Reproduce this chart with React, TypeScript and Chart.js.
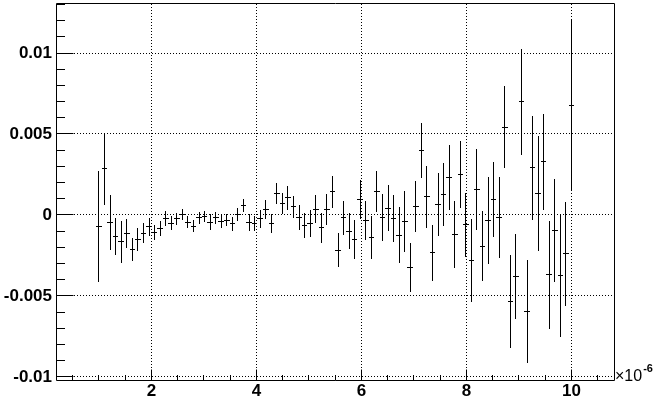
import { useEffect, useRef } from "react";
import { Chart, registerables } from "chart.js";

Chart.register(...registerables);

// ---- data (x in units of 1e-6) ----
const xValues = [
  1.0, 1.106, 1.212, 1.318, 1.424, 1.529, 1.635, 1.741, 1.847, 1.953,
  2.059, 2.165, 2.271, 2.376, 2.482, 2.588, 2.694, 2.8, 2.906, 3.012,
  3.118, 3.224, 3.329, 3.435, 3.541, 3.647, 3.753, 3.859, 3.965, 4.071,
  4.176, 4.282, 4.388, 4.494, 4.6, 4.706, 4.812, 4.918, 5.024, 5.129,
  5.235, 5.341, 5.447, 5.553, 5.659, 5.765, 5.871, 5.976, 6.082, 6.188,
  6.294, 6.4, 6.506, 6.612, 6.718, 6.824, 6.929, 7.035, 7.141, 7.247,
  7.353, 7.459, 7.565, 7.671, 7.776, 7.882, 7.988, 8.094, 8.2, 8.306,
  8.412, 8.518, 8.624, 8.729, 8.835, 8.941, 9.047, 9.153, 9.259, 9.365,
  9.471, 9.576, 9.682, 9.788, 9.894, 10.0,
];

const yValues = [
  -0.00073, 0.00285, -0.00048, -0.00135, -0.00165, -0.00116, -0.00213, -0.00151, -0.00112, -0.00073,
  -0.0011, -0.00083, -0.00023, -0.0005, -0.00023, 0.00003, -0.00044, -0.00069, -0.00017, -0.00007,
  -0.00044, -0.00017, -0.00038, -0.00032, -0.00054, 0.00003, 0.00059, -0.00048, -0.00052, -0.00025,
  0.00034, -0.00052, 0.00133, 0.00071, 0.00106, 0.0005, -0.00017, -0.00065, -0.00052, 0.00034,
  -0.00079, 0.00034, 0.00143, -0.00217, -0.00017, -0.001, -0.00151, 0.00096, -0.00034, -0.00141,
  0.00147, -0.00017, 0.0004, -0.00024, -0.00126, -0.00038, -0.00326, 0.0005, 0.00398, 0.00112,
  -0.00233, 0.00063, 0.00126, 0.00229, -0.00122, 0.00248, -0.00061, -0.00283, 0.00157, -0.00192,
  -0.00034, 0.00096, -0.00015, 0.00542, -0.00535, -0.00381, 0.00698, -0.00597, 0.00291, 0.00133,
  0.00328, -0.00371, -0.00096, -0.00377, -0.0024, 0.00676,
];

const yErrors = [
  0.00342, 0.00221, 0.00169, 0.00114, 0.00129, 0.00089, 0.00069, 0.00069, 0.0006, 0.00055,
  0.00045, 0.00046, 0.00047, 0.00041, 0.00038, 0.00036, 0.00036, 0.00036, 0.00038, 0.00034,
  0.00048, 0.00038, 0.00043, 0.00036, 0.00043, 0.00041, 0.00041, 0.00051, 0.00046, 0.00057,
  0.0006, 0.00059, 0.00065, 0.00065, 0.00074, 0.00069, 0.00079, 0.00079, 0.00084, 0.00086,
  0.00093, 0.00098, 0.00098, 0.00103, 0.00105, 0.00113, 0.00119, 0.00121, 0.00121, 0.00132,
  0.00126, 0.00144, 0.00142, 0.00144, 0.00172, 0.00188, 0.00152, 0.00157, 0.00169, 0.00192,
  0.00172, 0.00193, 0.00193, 0.002, 0.00206, 0.00208, 0.00197, 0.00255, 0.00249, 0.00219,
  0.00267, 0.0023, 0.00252, 0.00255, 0.00285, 0.00264, 0.00326, 0.00317, 0.00323, 0.00355,
  0.00298, 0.00331, 0.00317, 0.00377, 0.00322, 0.00531,
];

const xHalfWidth = 0.053;

const xTicks = [2, 4, 6, 8, 10];
const xTickLabels = ["2", "4", "6", "8", "10"];
const yTicks = [-0.01, -0.005, 0, 0.005, 0.01];
const yTickLabels = ["-0.01", "-0.005", "0", "0.005", "0.01"];
const xMinorStep = 0.5;
const yMinorStep = 0.001;
const xRange = [0.181, 10.81];
const yRange = [-0.010195, 0.013089];
const exponentBase = "\u00d710";
const exponentPower = "-6";

const FONT = "'Liberation Sans', Arial, Helvetica, sans-serif";

const rootPlugin = {
  id: "rootStyle",
  beforeDatasetsDraw(chart: any) {
    const { ctx, chartArea: a, scales } = chart;
    const xs = scales.x;
    const ys = scales.y;
    ctx.save();
    ctx.strokeStyle = "#000";
    ctx.lineWidth = 1;
    ctx.setLineDash([1, 2]);
    for (const v of xTicks) {
      const p = Math.floor(xs.getPixelForValue(v)) + 0.5;
      ctx.beginPath();
      ctx.moveTo(p, a.bottom);
      ctx.lineTo(p, a.top);
      ctx.stroke();
    }
    for (const v of yTicks) {
      const p = Math.floor(ys.getPixelForValue(v)) + 0.5;
      ctx.beginPath();
      ctx.moveTo(a.left, p);
      ctx.lineTo(a.right, p);
      ctx.stroke();
    }
    ctx.restore();
  },
  afterDatasetsDraw(chart: any) {
    const { ctx, chartArea: a, scales } = chart;
    const xs = scales.x;
    const ys = scales.y;
    ctx.save();
    ctx.strokeStyle = "#000";
    ctx.lineWidth = 1;
    ctx.setLineDash([]);
    // error bars
    ctx.save();
    ctx.beginPath();
    ctx.rect(a.left, a.top, a.right - a.left, a.bottom - a.top);
    ctx.clip();
    ctx.beginPath();
    for (let i = 0; i < xValues.length; i++) {
      const x = xValues[i];
      const y = yValues[i];
      const e = yErrors[i];
      const px = Math.floor(xs.getPixelForValue(x)) + 0.5;
      const py = Math.floor(ys.getPixelForValue(y)) + 0.5;
      const t = Math.round(ys.getPixelForValue(y + e));
      const b = Math.round(ys.getPixelForValue(y - e));
      const l = Math.round(xs.getPixelForValue(x - xHalfWidth));
      const r = Math.round(xs.getPixelForValue(x + xHalfWidth));
      ctx.moveTo(px, t);
      ctx.lineTo(px, b);
      ctx.moveTo(l, py);
      ctx.lineTo(r, py);
    }
    ctx.stroke();
    ctx.restore();

    // frame
    const L = Math.floor(a.left) + 0.5;
    const R = Math.floor(a.right) + 0.5;
    const T = Math.floor(a.top) + 0.5;
    const B = Math.floor(a.bottom) + 0.5;
    ctx.beginPath();
    ctx.moveTo(L, T);
    ctx.lineTo(R, T);
    ctx.lineTo(R, B);
    ctx.lineTo(L, B);
    ctx.closePath();
    ctx.stroke();

    // y ticks (inward)
    const yMajLen = 17;
    const yMinLen = 8.5;
    ctx.beginPath();
    for (let k = Math.ceil(yRange[0] / yMinorStep); k * yMinorStep <= yRange[1]; k++) {
      const v = k * yMinorStep;
      const isMajor = yTicks.some((t) => Math.abs(t - v) < 1e-9);
      const p = Math.floor(ys.getPixelForValue(v)) + 0.5;
      ctx.moveTo(L, p);
      ctx.lineTo(L + (isMajor ? yMajLen : yMinLen), p);
    }
    // x ticks (upward)
    const xMajLen = 11;
    const xMinLen = 5.5;
    for (let k = Math.ceil(xRange[0] / xMinorStep); k * xMinorStep <= xRange[1]; k++) {
      const v = k * xMinorStep;
      const isMajor = xTicks.some((t) => Math.abs(t - v) < 1e-9);
      const p = Math.floor(xs.getPixelForValue(v)) + 0.5;
      ctx.moveTo(p, B);
      ctx.lineTo(p, B - (isMajor ? xMajLen : xMinLen));
    }
    ctx.stroke();

    // exponent label
    ctx.fillStyle = "#000";
    ctx.textBaseline = "alphabetic";
    ctx.textAlign = "left";
    ctx.font = `16px ${FONT}`;
    const bx = a.right + 1;
    const by = a.bottom + 1;
    ctx.fillText(exponentBase, bx, by);
    const w = ctx.measureText(exponentBase).width;
    ctx.font = `bold 11px ${FONT}`;
    ctx.fillText(exponentPower, bx + w + 1, by - 9);
    ctx.restore();
  },
};

export default function App() {
  const ref = useRef<HTMLCanvasElement | null>(null);

  useEffect(() => {
    document.body.style.margin = "0";
    const canvas = ref.current;
    if (!canvas) return;
    const chart = new Chart(canvas, {
      type: "scatter",
      data: {
        datasets: [
          {
            data: xValues.map((x, i) => ({ x, y: yValues[i] })),
            pointRadius: 0,
            pointHoverRadius: 0,
            showLine: false,
          },
        ],
      },
      options: {
        responsive: false,
        animation: false,
        events: [],
        layout: { padding: { top: 3, right: 45, bottom: 0, left: 0 } },
        plugins: { legend: { display: false }, tooltip: { enabled: false } },
        scales: {
          x: {
            type: "linear",
            min: xRange[0],
            max: xRange[1],
            grid: { display: false, drawTicks: false },
            border: { display: false },
            afterBuildTicks: (scale: any) => {
              scale.ticks = xTicks.map((v) => ({ value: v }));
            },
            afterFit: (scale: any) => {
              scale.height = 22;
              scale.paddingLeft = 0;
              scale.paddingRight = 0;
              scale.paddingTop = 0;
              scale.paddingBottom = 0;
            },
            ticks: {
              autoSkip: false,
              maxRotation: 0,
              minRotation: 0,
              padding: 1,
              color: "#000",
              font: { family: FONT, size: 17, weight: "bold" },
              callback: (_v: any, i: number) => xTickLabels[i],
            },
          },
          y: {
            type: "linear",
            min: yRange[0],
            max: yRange[1],
            grid: { display: false, drawTicks: false },
            border: { display: false },
            afterBuildTicks: (scale: any) => {
              scale.ticks = yTicks.map((v) => ({ value: v }));
            },
            afterFit: (scale: any) => {
              scale.width = 56;
              scale.paddingLeft = 0;
              scale.paddingRight = 0;
              scale.paddingTop = 0;
              scale.paddingBottom = 0;
            },
            ticks: {
              autoSkip: false,
              padding: 4,
              color: "#000",
              font: { family: FONT, size: 17, weight: "bold" },
              callback: (_v: any, i: number) => yTickLabels[i],
            },
          },
        },
      },
      plugins: [rootPlugin],
    } as any);
    return () => chart.destroy();
  }, []);

  return (
    <div style={{ width: 659, height: 402, background: "#fff" }}>
      <canvas ref={ref} width={659} height={402} style={{ display: "block" }} />
    </div>
  );
}
